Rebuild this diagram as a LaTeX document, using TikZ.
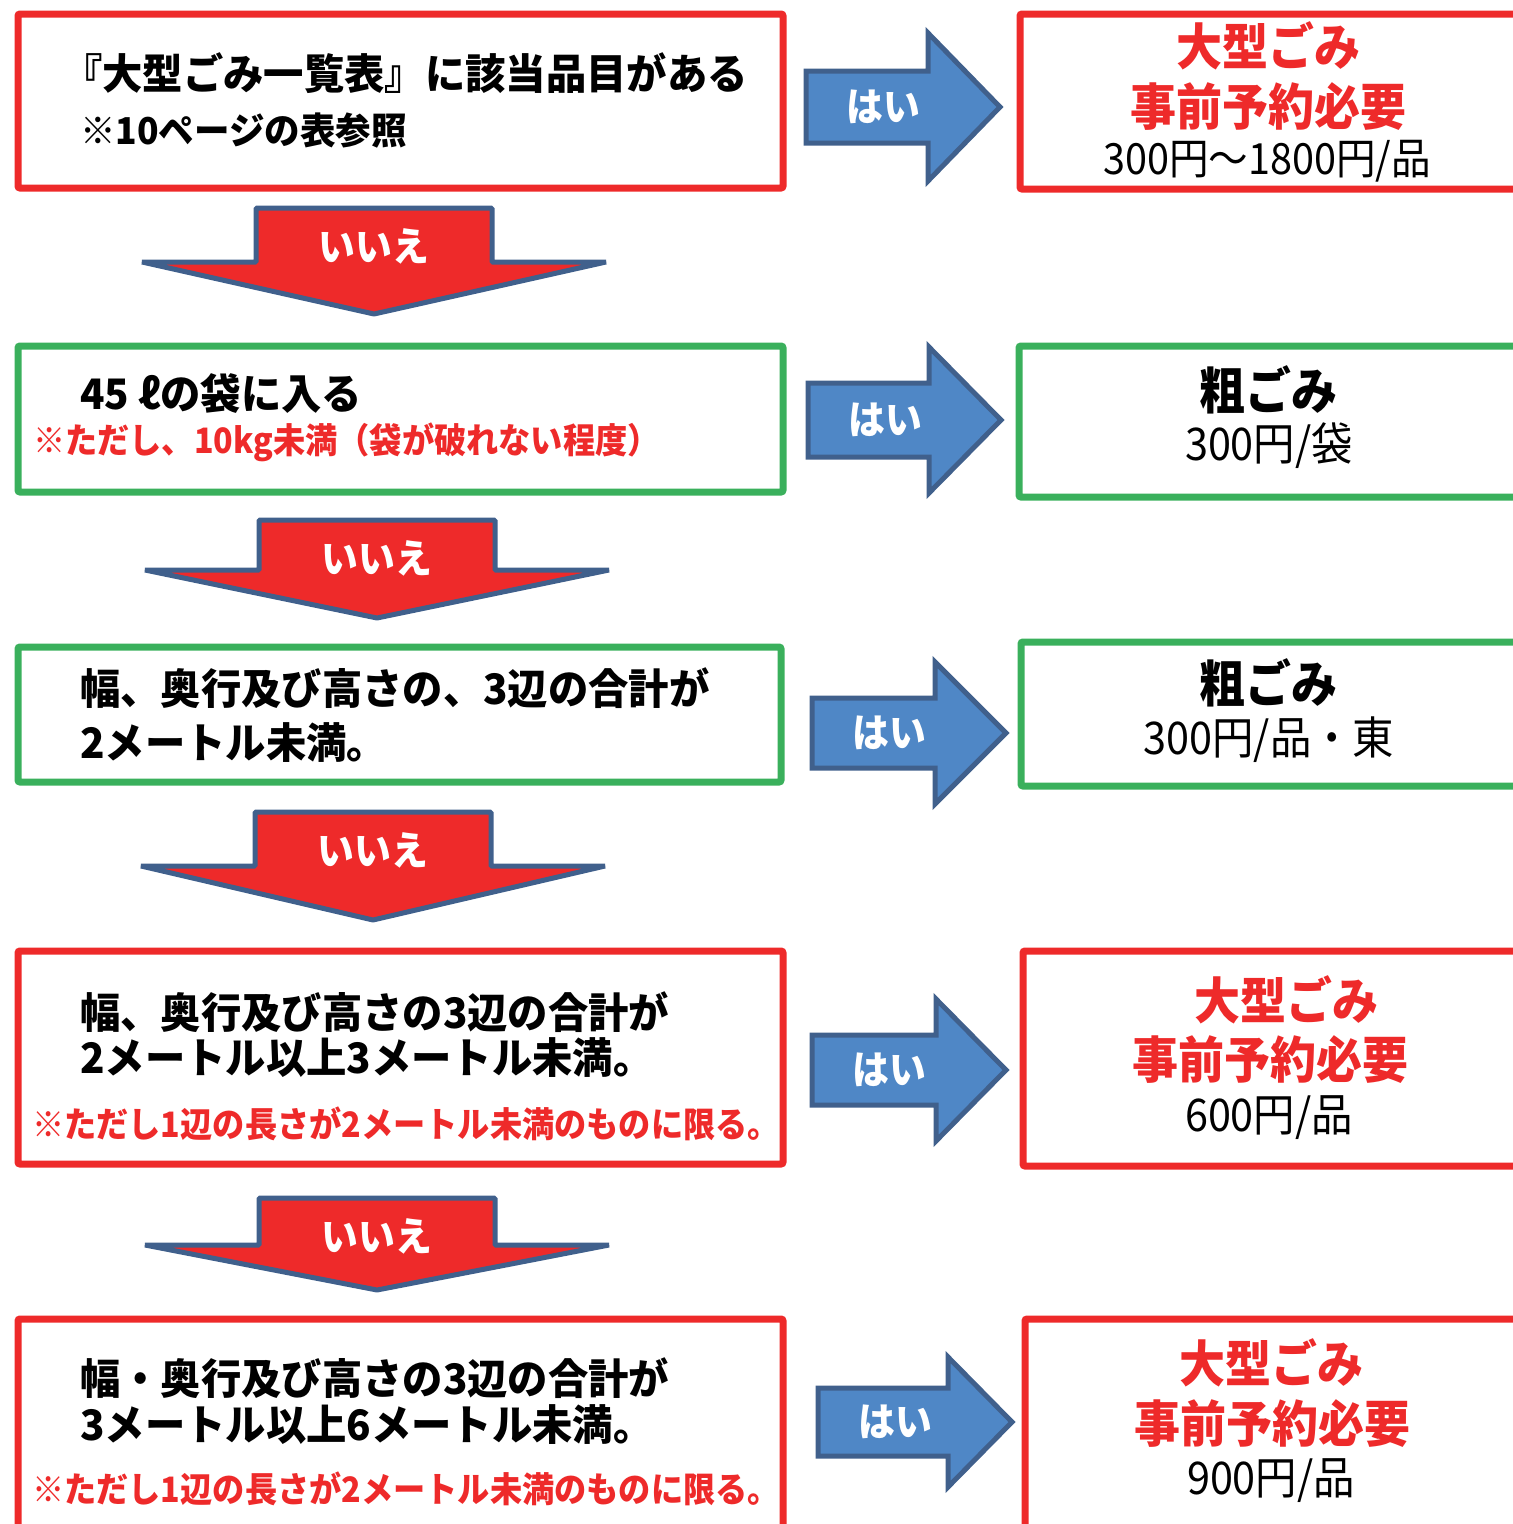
\documentclass[tikz,border=0pt]{standalone}
\usepackage{fontspec}
\newfontfamily\jp[FakeStretch=0.92]{Noto Sans CJK JP}
\newfontfamily\jpwide[FakeStretch=0.96]{Noto Sans CJK JP}
\definecolor{boxred}{RGB}{238,42,42}
\definecolor{boxgreen}{RGB}{58,176,92}
\definecolor{yesblue}{RGB}{79,135,198}
\definecolor{rimblue}{RGB}{64,96,140}
\begin{document}
\begin{tikzpicture}[x=1pt,y=-1pt,
  frame/.style={line width=7pt,rounded corners=2pt},
  main/.style={anchor=west,inner sep=0,font=\jpwide\bfseries\fontsize{42}{48}\selectfont},
  note/.style={anchor=west,inner sep=0,text=boxred,font=\jp\bfseries\fontsize{35}{40}\selectfont},
  head/.style={inner sep=0,font=\jp\bfseries\fontsize{50}{56}\selectfont},
  price/.style={inner sep=0,font=\jp\fontsize{45}{50}\selectfont},
  label/.style={inner sep=0,text=white,font=\jp\bfseries\fontsize{40}{44}\selectfont}]
\clip (0,0) rectangle (1513,1524);

% question boxes
\draw[frame,boxred] (18,14) rectangle (783,188);
\draw[frame,boxgreen] (18,346) rectangle (783,492);
\draw[frame,boxgreen] (18,647) rectangle (781,782);
\draw[frame,boxred] (18,951) rectangle (783,1164);
\draw[frame,boxred] (18,1319) rectangle (783,1560);

% answer boxes
\draw[frame,boxred] (1020,14) rectangle (1540,189);
\draw[frame,boxgreen] (1019,346) rectangle (1540,497);
\draw[frame,boxgreen] (1021,642) rectangle (1540,786);
\draw[frame,boxred] (1023,951) rectangle (1540,1166);
\draw[frame,boxred] (1025,1319) rectangle (1540,1560);

% yes arrows
\foreach \l/\c/\b/\t/\s/\hh [count=\i] in {806/107/928/1000/36/74, 808/420/929/1001/37/73,
  812/733/935/1006/35/71, 812/1070/936/1006/35/71, 818/1422/948/1012/34/65}
{
\draw[line width=5pt,line join=miter,fill=yesblue,draw=rimblue]
  (\l,\c-\s) -- (\b,\c-\s) -- (\b,\c-\hh) -- (\t,\c) -- (\b,\c+\hh) -- (\b,\c+\s) -- (\l,\c+\s) -- cycle;
\node[label] (yes\i) at (\l+77,\c) {はい};
}

% no arrows
\foreach \x/\top/\sh/\tip [count=\i] in {374/208/262/314, 377/520/570/618, 373/812/866/920, 377/1198/1245/1290}
{
\draw[line width=5pt,line join=bevel,fill=boxred,draw=rimblue]
  (\x-118,\top) -- (\x+118,\top) -- (\x+118,\sh) -- (\x+232,\sh) -- (\x,\tip) -- (\x-232,\sh) -- (\x-118,\sh) -- cycle;
\node[label] (no\i) at (\x,\top+38) {いいえ};
}

% texts
\node[main] (q1a) at (62,73) {『大型ごみ一覧表』に該当品目がある};
\node[main,font=\jpwide\bfseries\fontsize{37}{42}\selectfont] (q1b) at (80,131) {※10ページの表参照};
\node[main] (q2a) at (80,394) {45 ℓの袋に入る};
\node[note] (q2b) at (33,442) {※ただし、10kg未満（袋が破れない程度）};
\node[main] (q3a) at (80,688) {幅、奥行及び高さの、3辺の合計が};
\node[main] (q3b) at (80,743) {2メートル未満。};
\node[main] (q4a) at (80,1012) {幅、奥行及び高さの3辺の合計が};
\node[main] (q4b) at (80,1058) {2メートル以上3メートル未満。};
\node[note] (q4c) at (32,1124) {※ただし1辺の長さが2メートル未満のものに限る。};
\node[main] (q5a) at (80,1378) {幅・奥行及び高さの3辺の合計が};
\node[main] (q5b) at (80,1425) {3メートル以上6メートル未満。};
\node[note] (q5c) at (32,1489) {※ただし1辺の長さが2メートル未満のものに限る。};

\node[head,text=boxred] (a1a) at (1268,46) {大型ごみ};
\node[head,text=boxred] (a1b) at (1268,107) {事前予約必要};
\node[price,font=\jp\fontsize{43}{48}\selectfont] (a1c) at (1267,161) {300円～1800円/品};
\node[head] (a2a) at (1268,390) {粗ごみ};
\node[price] (a2b) at (1269,446) {300円/袋};
\node[head] (a3a) at (1268,683) {粗ごみ};
\node[price] (a3b) at (1269,740) {300円/品・東};
\node[head,text=boxred] (a4a) at (1286,1000) {大型ごみ};
\node[head,text=boxred] (a4b) at (1270,1060) {事前予約必要};
\node[price] (a4c) at (1269,1118) {600円/品};
\node[head,text=boxred] (a5a) at (1271,1363) {大型ごみ};
\node[head,text=boxred] (a5b) at (1272,1424) {事前予約必要};
\node[price] (a5c) at (1271,1481) {900円/品};
\end{tikzpicture}
\end{document}
